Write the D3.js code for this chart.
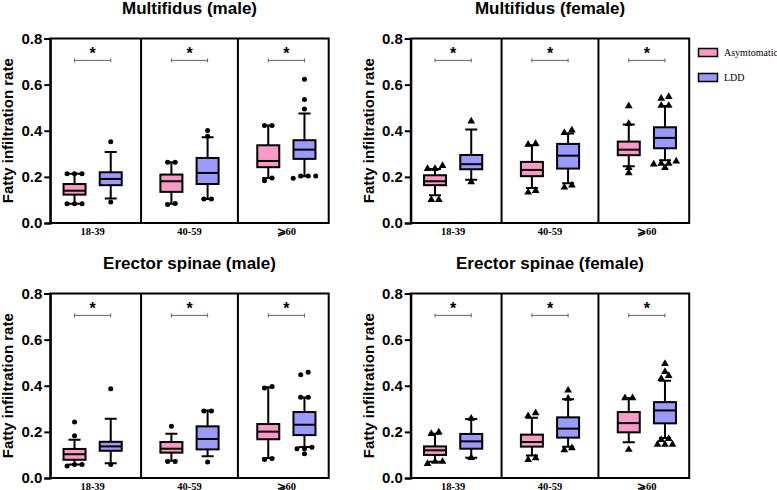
<!DOCTYPE html>
<html lang="en">

<head>
    <meta charset="UTF-8">
    <title>Fatty infiltration rate</title>
    <style>
        body,
        html {
            margin: 0;
            padding: 0;
            background: #fff;
        }

        svg {
            display: block;
        }

        .title {
            font-family: "Liberation Sans", Arial, sans-serif;
            font-weight: bold;
            font-size: 17px;
        }

        .ylabel {
            font-family: "Liberation Sans", Arial, sans-serif;
            font-weight: bold;
            font-size: 15px;
        }

        .yaxis text {
            font-family: "Liberation Sans", Arial, sans-serif;
            font-weight: bold;
            font-size: 15px;
            fill: #000;
        }

        .xlabel {
            font-family: "Liberation Serif", "DejaVu Serif", serif;
            font-weight: bold;
            font-size: 10.5px;
        }

        .legend text {
            font-family: "Liberation Serif", "DejaVu Serif", serif;
            font-size: 10px;
        }
    </style>
</head>

<body>
    <svg id="svg" width="777" height="490"></svg>

    <script src="https://d3js.org/d3.v7.min.js"></script>
    <script>
        // categories
        const groups = ["18-39", "40-59", "\u2A7E60"];
        const series = ["Asymtomatic", "LDD"];
        const titles = ["Multifidus (male)", "Multifidus (female)", "Erector spinae (male)", "Erector spinae (female)"];
        const yTicks = [0, 0.2, 0.4, 0.6, 0.8];

        // box stats per group: [whisker low, q1, median, q3, whisker high]
        const mfMaleAsym = [[0.084, 0.123, 0.140, 0.169, 0.214], [0.084, 0.135, 0.181, 0.210, 0.263], [0.195, 0.242, 0.269, 0.337, 0.423]];
        const mfMaleLdd = [[0.106, 0.164, 0.191, 0.220, 0.308], [0.104, 0.169, 0.217, 0.282, 0.372], [0.203, 0.278, 0.318, 0.359, 0.475]];
        const mfFemaleAsym = [[0.120, 0.164, 0.181, 0.207, 0.234], [0.152, 0.203, 0.230, 0.265, 0.337], [0.246, 0.294, 0.318, 0.353, 0.427]];
        const mfFemaleLdd = [[0.188, 0.233, 0.255, 0.295, 0.405], [0.172, 0.236, 0.292, 0.343, 0.388], [0.272, 0.324, 0.369, 0.415, 0.507]];
        const esMaleAsym = [[0.058, 0.079, 0.103, 0.126, 0.166], [0.075, 0.110, 0.127, 0.156, 0.192], [0.087, 0.168, 0.201, 0.234, 0.394]];
        const esMaleLdd = [[0.064, 0.118, 0.137, 0.157, 0.257], [0.094, 0.124, 0.169, 0.224, 0.293], [0.134, 0.186, 0.231, 0.286, 0.349]];
        const esFemaleAsym = [[0.071, 0.100, 0.120, 0.137, 0.192], [0.098, 0.136, 0.156, 0.188, 0.261], [0.155, 0.198, 0.238, 0.286, 0.347]];
        const esFemaleLdd = [[0.088, 0.127, 0.159, 0.191, 0.256], [0.136, 0.175, 0.214, 0.263, 0.342], [0.173, 0.237, 0.293, 0.329, 0.422]];

        // outliers per group
        const mfMaleAsymOut = [[0.214, 0.214, 0.214, 0.084, 0.084, 0.084], [0.263, 0.263, 0.080, 0.085], [0.423, 0.423, 0.183, 0.195]];
        const mfMaleLddOut = [[0.352, 0.091], [0.401, 0.376, 0.104, 0.104], [0.623, 0.535, 0.494, 0.194, 0.204, 0.204, 0.204]];
        const mfFemaleAsymOut = [[0.248, 0.235, 0.235, 0.101, 0.101], [0.340, 0.344, 0.133, 0.140], [0.507, 0.430, 0.217, 0.240]];
        const mfFemaleLddOut = [[0.441, 0.178], [0.391, 0.402, 0.155, 0.164], [0.540, 0.547, 0.509, 0.509, 0.268, 0.258, 0.240, 0.258, 0.255]];
        const esMaleAsymOut = [[0.243, 0.183, 0.052, 0.058, 0.058], [0.224, 0.072, 0.072], [0.390, 0.397, 0.080, 0.085]];
        const esMaleLddOut = [[0.387, 0.058], [0.290, 0.290, 0.069], [0.458, 0.448, 0.350, 0.350, 0.127, 0.133, 0.105, 0.127]];
        const esFemaleAsymOut = [[0.192, 0.198, 0.062, 0.071, 0.071], [0.269, 0.282, 0.079, 0.087], [0.347, 0.347, 0.123]];
        const esFemaleLddOut = [[0.258, 0.088], [0.380, 0.345, 0.121, 0.130], [0.495, 0.461, 0.443, 0.430, 0.170, 0.166, 0.145, 0.145, 0.145]];

        const sigLevel = 0.705;
        const starLevel = 0.75;

        const colors = { "Asymtomatic": "#f79ac6", "LDD": "#9a9af8" };

        const panels = [
            { title: titles[0], stats: [mfMaleAsym, mfMaleLdd], outs: [mfMaleAsymOut, mfMaleLddOut], shape: "circle", dx: 0, dy: 0 },
            { title: titles[1], stats: [mfFemaleAsym, mfFemaleLdd], outs: [mfFemaleAsymOut, mfFemaleLddOut], shape: "triangle", dx: 360.5, dy: 0 },
            { title: titles[2], stats: [esMaleAsym, esMaleLdd], outs: [esMaleAsymOut, esMaleLddOut], shape: "circle", dx: 0, dy: 255 },
            { title: titles[3], stats: [esFemaleAsym, esFemaleLdd], outs: [esFemaleAsymOut, esFemaleLddOut], shape: "triangle", dx: 360.5, dy: 255 }
        ];

        const plotLeft = 50.3, plotRight = 328.7, plotTop = 38.5, plotBottom = 223;
        const boxW = 22, capW = 12, dotGap = 7.5;

        const svg = d3.select('#svg');

        // spread outliers of nearly equal value side by side
        function layoutOutliers(values) {
            const sorted = values.slice().sort((a, b) => a - b);
            const clusters = [];
            sorted.forEach(v => {
                const last = clusters[clusters.length - 1];
                if (last && v - last[last.length - 1] < 0.015) last.push(v);
                else clusters.push([v]);
            });
            const pts = [];
            clusters.forEach(c => c.forEach((v, k) => pts.push({ v, off: (k - (c.length - 1) / 2) * dotGap })));
            return pts;
        }

        panels.forEach(p => {
            const g = svg.append('g').attr('transform', `translate(${p.dx}, ${p.dy})`);

            const x = d3.scalePoint().domain(groups).range([plotLeft, plotRight]).padding(0.437);
            const xs = d3.scalePoint().domain(series).range([-18.1, 18.1]);
            const y = d3.scaleLinear().domain([0, 0.8]).range([plotBottom, plotTop]);
            const step = x.step();

            // frame and group dividers
            g.append('rect')
                .attr('x', plotLeft).attr('y', plotTop)
                .attr('width', plotRight - plotLeft).attr('height', plotBottom - plotTop)
                .attr('fill', 'none').attr('stroke', '#000').attr('stroke-width', 2);

            g.selectAll('.divider')
                .data(groups.slice(0, -1))
                .join('line')
                .attr('x1', d => x(d) + step / 2).attr('x2', d => x(d) + step / 2)
                .attr('y1', plotTop).attr('y2', plotBottom)
                .attr('stroke', '#000').attr('stroke-width', 2);

            // y axis
            const yAxis = d3.axisLeft(y)
                .tickValues(yTicks)
                .tickFormat(d3.format('.1f'))
                .tickSize(6)
                .tickPadding(2);

            const ya = g.append('g')
                .attr('class', 'yaxis')
                .attr('transform', `translate(${plotLeft}, 0)`)
                .call(yAxis);
            ya.select('.domain').attr('stroke-width', 2);
            ya.selectAll('.tick line').attr('stroke-width', 2);

            g.append('text')
                .attr('class', 'ylabel')
                .attr('transform', 'rotate(-90)')
                .attr('x', -(plotTop + plotBottom) / 2)
                .attr('y', plotLeft - 37)
                .attr('text-anchor', 'middle')
                .text('Fatty infiltration rate');

            // x labels
            g.selectAll('.xlabel')
                .data(groups)
                .join('text')
                .attr('class', 'xlabel')
                .attr('x', d => x(d))
                .attr('y', plotBottom + 11.5)
                .attr('text-anchor', 'middle')
                .text(d => d);

            // title
            g.append('text')
                .attr('class', 'title')
                .attr('x', (plotLeft + plotRight) / 2)
                .attr('y', plotTop - 24.5)
                .attr('text-anchor', 'middle')
                .text(p.title);

            // significance bars
            const sig = g.selectAll('.sig')
                .data(groups)
                .join('g')
                .attr('transform', d => `translate(${x(d)}, 0)`);

            sig.append('path')
                .attr('d', () => {
                    const x1 = xs(series[0]), x2 = xs(series[1]), yy = y(sigLevel);
                    return `M${x1},${yy - 2}V${yy + 2}M${x1},${yy}H${x2}M${x2},${yy - 2}V${yy + 2}`;
                })
                .attr('fill', 'none').attr('stroke', '#666').attr('stroke-width', 1);

            sig.append('text')
                .attr('y', y(starLevel) + 8.5)
                .attr('text-anchor', 'middle')
                .style('font-family', '"Liberation Sans", Arial, sans-serif')
                .style('font-weight', 'bold')
                .style('font-size', '16px')
                .text('*');

            // boxes
            series.forEach((s, si) => {
                groups.forEach((grp, gi) => {
                    const [lo, q1, med, q3, hi] = p.stats[si][gi];
                    const cx = x(grp) + xs(s);
                    const bg = g.append('g').attr('transform', `translate(${cx}, 0)`);

                    bg.append('path')
                        .attr('d', `M0,${y(q3)}V${y(hi)}M${-capW / 2},${y(hi)}H${capW / 2}` +
                            `M0,${y(q1)}V${y(lo)}M${-capW / 2},${y(lo)}H${capW / 2}`)
                        .attr('stroke', '#000').attr('stroke-width', 2).attr('fill', 'none');

                    bg.append('rect')
                        .attr('x', -boxW / 2).attr('y', y(q3))
                        .attr('width', boxW).attr('height', y(q1) - y(q3))
                        .attr('fill', colors[s]).attr('stroke', '#000').attr('stroke-width', 2);

                    bg.append('line')
                        .attr('x1', -boxW / 2).attr('x2', boxW / 2)
                        .attr('y1', y(med)).attr('y2', y(med))
                        .attr('stroke', '#000').attr('stroke-width', 2);

                    const pts = layoutOutliers(p.outs[si][gi]);
                    if (p.shape === 'circle') {
                        bg.selectAll('circle')
                            .data(pts)
                            .join('circle')
                            .attr('cx', d => d.off).attr('cy', d => y(d.v))
                            .attr('r', 2.5).attr('fill', '#000');
                    } else {
                        bg.selectAll('path.pt')
                            .data(pts)
                            .join('path')
                            .attr('class', 'pt')
                            .attr('transform', d => `translate(${d.off}, ${y(d.v)})`)
                            .attr('d', d3.symbol(d3.symbolTriangle, 26))
                            .attr('fill', '#000');
                    }
                });
            });
        });

        // legend
        const legend = svg.append('g')
            .attr('class', 'legend')
            .selectAll('g')
            .data(series)
            .join('g')
            .attr('transform', (d, i) => `translate(698.5, ${48.5 + i * 25})`);

        legend.append('rect')
            .attr('width', 19).attr('height', 8)
            .attr('fill', d => colors[d]).attr('stroke', '#000').attr('stroke-width', 1.5);

        legend.append('text')
            .attr('x', 25.5)
            .attr('y', 7.5)
            .text(d => d);
    </script>
</body>

</html>
